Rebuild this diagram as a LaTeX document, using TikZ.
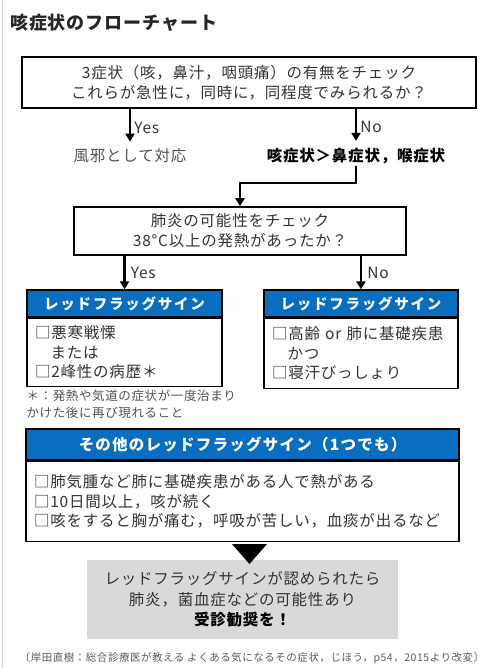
\documentclass[tikz,border=0pt]{standalone}
\usepackage{fontspec}
\setmainfont{Noto Sans CJK JP}[LetterSpace=5]
\usepackage{xcolor}
\usepackage{tikz}
\usetikzlibrary{arrows.meta,positioning,calc}
\definecolor{ink}{HTML}{333333}
\definecolor{flagblue}{HTML}{0A6EC0}
\definecolor{panel}{HTML}{D9D9D9}
\definecolor{edge}{HTML}{D6D6D6}
\newcommand{\fsz}[2]{\fontsize{#1}{#2}\selectfont}
\newcommand{\headfont}{\bfseries\fsz{14.5}{18}\addfontfeatures{LetterSpace=12}}
\tikzset{
  qbox/.style={draw=black,line width=1.6pt,align=center,text=ink,
    font=\fsz{15.5}{20},inner sep=0pt},
  flow/.style={-{Triangle[length=8pt,width=9pt]},line width=2.6pt,draw=black},
  ylab/.style={font=\fsz{15.5}{18},text=ink,inner sep=2pt},
  rhead/.style={draw=black,line width=1.3pt,fill=flagblue,text=white,
    font=\headfont,minimum height=27pt,inner sep=0pt},
  rbody/.style={draw=black,line width=1.3pt,fill=white,align=left,text=ink,
    font=\fsz{15.5}{19.5},inner xsep=8pt},
  note/.style={font=\fsz{12.5}{17},text=ink!85,align=left,inner sep=0pt},
  cite/.style={font=\fsz{10.5}{13},text=ink!80,inner sep=0pt},
}

\begin{document}
\begin{tikzpicture}[x=1pt,y=-1pt]
  \useasboundingbox (0,0) rectangle (500,668);
  \draw[edge,line width=1pt] (2,0) -- (2,668);
  \node[anchor=west,font=\bfseries\fsz{18}{20},text=black!85,inner sep=0pt](title) at (10,23){咳症状のフローチャート};
  % first check
  \node[qbox,minimum width=454pt,minimum height=51pt](q1) at (249,82.5)
    {3症状（咳，鼻汁，咽頭痛）の有無をチェック\\これらが急性に，同時に，同程度でみられるか？};
  \node[ylab,text=ink!85](cold) at (130,156){風邪として対応};
  \node[font=\bfseries\fsz{15.5}{18},inner sep=2pt](cough) at (356,156){咳症状＞鼻症状，喉症状};
  \draw[flow,shorten >=5pt](q1.south -| cold.north)--(cold.north)
    node[ylab,midway,right=1pt](yes1){Yes};
  \draw[flow,shorten >=5pt](q1.south -| cough.north)--(cough.north)
    node[ylab,midway,right=1pt](no1){No};
  % pneumonia check
  \node[qbox,minimum width=332pt,minimum height=48pt](q2) at (240,231)
    {肺炎の可能性をチェック\\38°C以上の発熱があったか？};
  \coordinate(bend) at (240,183);
  \draw[flow](cough.south)|-(bend)--(q2.north);
  % red flags, yes / no
  \node[rhead,minimum width=195pt](rf1) at (124.5,303.5){レッドフラッグサイン};
  \node[rbody,below=0pt of rf1,text width=179pt,minimum height=68pt](rb1)
    {□悪寒戦慄\\\hspace*{1em}または\\□2峰性の病歴＊};
  \node[rhead,minimum width=194pt](rf2) at (361,303.5){レッドフラッグサイン};
  \node[rbody,below=0pt of rf2,text width=178pt,minimum height=70pt](rb2)
    {□高齢 or 肺に基礎疾患\\\hspace*{1em}かつ\\□寝汗びっしょり};
  \draw[flow](q2.south -| rf1.north)--(rf1.north)
    node[ylab,midway,right=3pt](yes2){Yes};
  \draw[flow](q2.south -| rf2.north)--(rf2.north)
    node[ylab,midway,right=3pt](no2){No};
  \node[note,below right=3pt and 0pt of rb1.south west](fn)
    {＊：発熱や気道の症状が一度治まり\\かけた後に再び現れること};
  % other red flags
  \node[rhead,minimum width=433pt,minimum height=31pt,font=\bfseries\fsz{15.5}{18}\addfontfeatures{LetterSpace=8}](rf3) at (242.5,444.5)
    {その他のレッドフラッグサイン（1つでも）};
  \node[rbody,below=0pt of rf3,text width=417pt,minimum height=80pt](rb3)
    {□肺気腫など肺に基礎疾患がある人で熱がある\\□10日間以上，咳が続く\\□咳をすると胸が痛む，呼吸が苦しい，血痰が出るなど};
  % result
  \node[fill=panel,minimum width=311pt,minimum height=79pt,align=center,text=ink,
    font=\fsz{15.5}{20.5}](res) at (242.5,599.5)
    {レッドフラッグサインが認められたら\\肺炎，菌血症などの可能性あり\\{\bfseries\color{black}受診勧奨を！}};
  \fill (232,544)--(267,544)--(249.5,564)--cycle;
  \node[cite](src) at (252,658)
    {〔岸田直樹：総合診療医が教える よくある気になるその症状，じほう，p54，2015より改変〕};
\end{tikzpicture}
\end{document}
